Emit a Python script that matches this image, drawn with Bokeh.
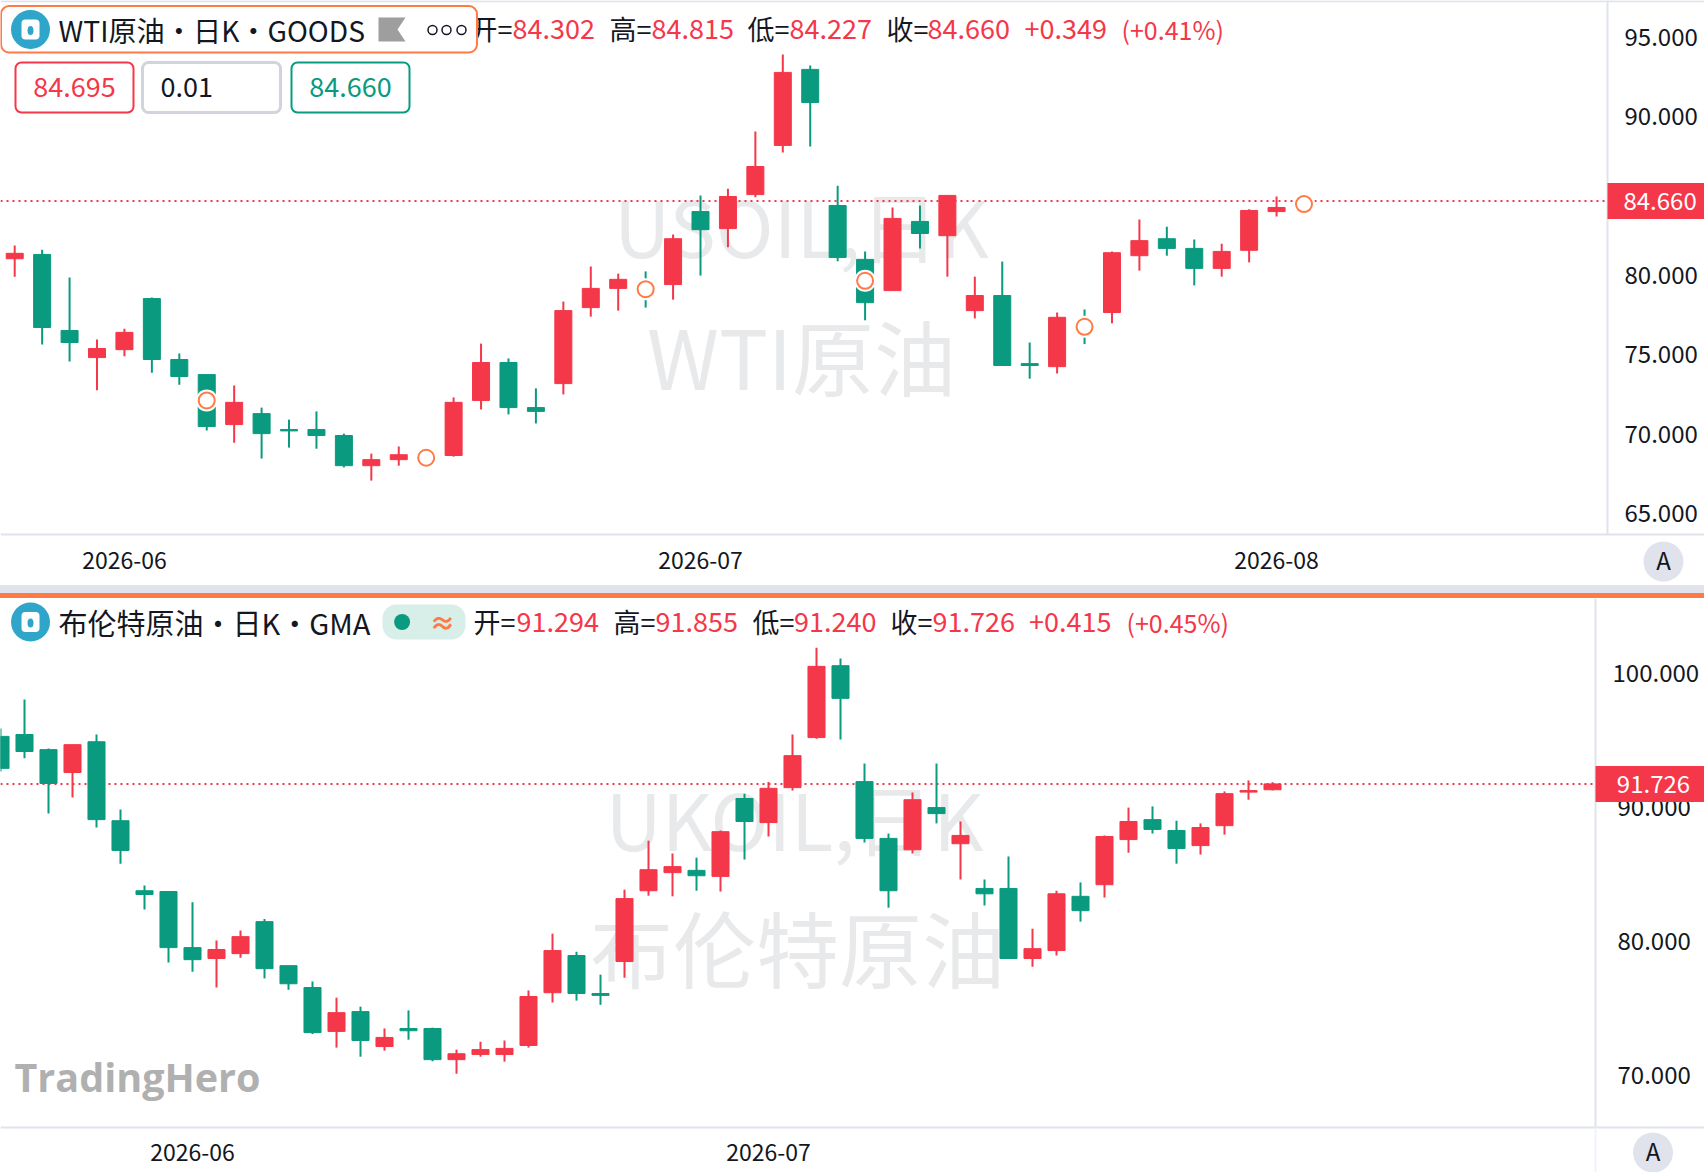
from bokeh.plotting import figure
from bokeh.layouts import column
from bokeh.models import Range1d, FixedTicker, NumeralTickFormatter, LinearAxis, Div
from bokeh.core.properties import value
from bokeh.embed import file_html
from bokeh.resources import INLINE

wti_open  = [81.03,81.30,76.51,74.80,75.30,78.52,74.68,73.73,70.58,71.27,70.27,70.27,69.89,67.99,68.37,68.44,68.63,72.10,74.49,71.65,73.16,77.95,79.16,79.28,79.40,84.00,82.93,85.07,88.17,92.96,84.38,80.99,79.02,83.38,82.48,77.76,78.71,74.42,74.23,76.91,77.64,81.22,82.29,81.68,80.42,81.56,84.00,84.302]
wti_high  = [81.86,81.60,79.85,75.94,76.62,78.59,75.06,73.73,73.04,71.65,70.89,71.41,70.01,68.75,69.20,68.97,72.29,75.68,74.75,72.86,78.33,80.54,80.09,80.23,82.55,85.02,85.44,89.05,93.89,93.20,85.63,81.49,84.26,84.38,85.02,79.90,80.85,75.75,77.64,77.83,81.49,83.50,83.05,82.24,81.98,84.14,84.95,84.815]
wti_low   = [79.90,75.63,74.56,72.74,74.89,73.85,73.09,70.20,69.44,68.44,69.13,69.06,67.88,67.05,67.99,67.97,68.56,71.53,71.22,70.65,72.48,77.38,77.76,77.95,78.45,79.97,81.75,84.90,87.72,88.10,80.87,77.15,79.02,81.68,79.90,77.27,74.30,73.47,73.80,75.65,76.96,80.28,81.22,79.35,79.90,80.80,83.69,84.227]
wti_close = [81.37,76.70,75.75,75.37,76.39,74.68,73.61,70.46,71.98,70.01,70.18,69.89,67.99,68.37,68.68,68.54,71.98,74.49,71.65,71.41,77.76,79.16,79.73,78.92,82.29,82.86,84.95,86.84,92.77,90.87,81.11,78.26,83.57,82.62,85.02,78.71,74.30,74.30,77.34,76.55,81.41,82.17,81.68,80.42,81.49,84.07,84.26,84.660]
wti_marker_index = [7,15,23,31,39,47]
wti_marker_value = [72.10,68.49,79.11,79.64,76.74,84.47]
wti_last = 84.66
wti_ticks = [95,90,85,80,75,70,65]
wti_date_index = [4,25,46]
wti_date_labels = ["2026-06","2026-07","2026-08"]

brent_open  = [95.28,95.42,94.29,92.58,94.88,88.98,83.75,83.69,79.50,78.69,79.05,81.44,78.15,76.52,73.24,74.72,72.11,73.46,73.46,71.13,71.52,71.52,72.19,76.13,78.91,76.07,78.46,83.75,85.10,85.27,84.82,90.64,88.84,91.45,95.19,100.56,91.90,87.66,86.81,89.96,87.26,83.92,83.92,78.69,79.28,83.33,84.20,87.57,89.06,88.25,87.12,88.61,91.12,91.294]
brent_high  = [95.87,98.03,94.38,94.66,95.42,89.82,84.14,83.69,82.88,80.04,80.77,81.64,78.15,76.97,75.76,75.09,73.46,74.81,73.52,71.88,72.47,72.56,76.30,80.54,79.19,77.48,83.83,87.49,86.53,86.22,88.25,91.00,91.87,95.42,101.91,101.10,93.25,88.02,91.09,93.25,88.92,84.59,86.31,80.91,83.75,84.37,87.88,89.96,90.05,88.98,88.78,91.17,91.99,91.855]
brent_low   = [92.66,93.65,89.51,90.72,88.47,85.77,82.34,78.38,77.70,76.52,78.74,77.20,76.35,73.04,72.03,71.35,71.80,72.62,71.01,70.08,71.35,70.98,72.03,75.40,75.54,75.23,77.25,83.38,83.33,83.75,83.69,86.08,87.80,91.23,95.11,95.05,87.35,82.48,86.53,88.78,84.59,82.65,78.69,78.07,78.91,81.44,83.24,86.59,88.02,85.77,86.45,87.94,90.55,91.240]
brent_close = [92.89,94.15,91.76,94.66,89.06,86.76,83.47,79.50,78.60,79.36,80.32,77.93,76.80,73.15,74.64,72.56,72.79,73.29,71.13,71.57,71.88,71.97,75.85,79.28,76.07,75.93,83.16,85.32,85.55,84.87,88.16,88.92,91.40,93.84,100.51,98.12,87.66,83.75,90.55,89.51,87.88,83.52,78.69,79.42,83.52,82.26,87.80,88.92,88.33,86.90,88.47,91.00,91.23,91.726]
brent_last = 91.726
brent_ticks_short = [90,80,70]
brent_ticks_long = [100]
brent_date_index = [8,32]
brent_date_labels = ["2026-06","2026-07"]

RED = "#f43749"
GREEN = "#0a9a7f"
INK = "#131722"
LINE = "#e0e3eb"
FAINT = "#f0f3fa"
WM = "#e8e9eb"
ORANGE = "#ff7a45"
BLUE = "#2fa6c9"
CJK = value("Noto Sans CJK SC")
PX = dict(x_range_name="px", y_range_name="px")
NO_TICK = dict(major_tick_line_color=None, minor_tick_line_color=None, axis_line_color=None,
               major_tick_out=0, major_tick_in=0, minor_tick_out=0, minor_tick_in=0,
               major_label_text_font="Noto Sans CJK SC", major_label_text_color=INK)


def make(width, height, top, xr, yr, tick_groups, date_idx, date_lab, date_standoff):
    p = figure(width=width, height=height, output_backend="svg", toolbar_location=None,
               x_range=Range1d(*xr), y_range=Range1d(*yr), min_border=0, x_axis_type=None, y_axis_type=None,
               outline_line_color=None, background_fill_color="white", frame_align=False)
    p.grid.visible = False
    p.extra_x_ranges["px"] = Range1d(0, width)
    p.extra_y_ranges["px"] = Range1d(top + height, top)
    for ticks, standoff in tick_groups:
        ay = LinearAxis(ticker=FixedTicker(ticks=ticks), formatter=NumeralTickFormatter(format="0.000"),
                        major_label_text_font_size="24px", major_label_standoff=standoff, **NO_TICK)
        p.add_layout(ay, "right")
    ax = LinearAxis(ticker=FixedTicker(ticks=date_idx),
                    major_label_overrides={i: l for i, l in zip(date_idx, date_lab)},
                    major_label_text_font_size="23px", major_label_standoff=date_standoff, **NO_TICK)
    p.add_layout(ax, "below")
    return p


def candles(p, o, h, l, c, w):
    idx = list(range(len(o)))
    col = [RED if a >= b else GREEN for a, b in zip(c, o)]
    p.segment(idx, h, idx, l, color=col, line_width=2)
    p.vbar(idx, w, [min(a, b) for a, b in zip(o, c)], [max(a, b) for a, b in zip(o, c)],
           fill_color=col, line_color=col, line_width=1)


def txt(p, x, y, s, color=INK, size="27px", align="left", font=CJK, style="normal"):
    p.text([x], [y], text=[s], text_color=color, text_font_size=size, text_align=align,
           text_baseline="middle", text_font=font, text_font_style=style, **PX)


def box(p, l, r, t, b, fill, line, lw=2, radius=6):
    p.quad(left=[l], right=[r], top=[t], bottom=[b], fill_color=fill, line_color=line,
           line_width=lw, border_radius=radius, **PX)


def rule(p, x0, y0, x1, y1, color=LINE):
    p.segment([x0], [y0], [x1], [y1], line_color=color, line_width=2, **PX)


def icon(p, cx, cy):
    p.ellipse([cx], [cy], width=[39], height=[39], fill_color=BLUE, line_color=None, **PX)
    box(p, cx - 9, cx + 9, cy - 10, cy + 10, "white", None, 0, 4)
    p.ellipse([cx], [cy + 1], width=[6], height=[9], fill_color=BLUE, line_color=None, **PX)


def ohlc(p, y, parts):
    for x, s, col, size in parts:
        txt(p, x, y, s, col, size)


def price_line(p, x0, x1, price):
    p.segment([x0], [price], [x1], [price], line_color=RED, line_width=2, line_dash="2 4")


def tag(p, left, right, price, half, xtext, s):
    p.quad(left=[left], right=[right], top=[price + half], bottom=[price - half], fill_color=RED, line_color=None,
           x_range_name="px", level="annotation")
    p.text([xtext], [price], text=[s], text_color="white", text_font_size="24px", text_align="center",
           text_baseline="middle", text_font=CJK, x_range_name="px", level="annotation")


def button(p, xc, yc):
    p.ellipse([xc], [yc], width=[40], height=[40], fill_color=LINE, line_color=None, **PX)
    txt(p, xc, yc - 2, "A", INK, "24px", "center")


# ---- top panel
p1 = make(1704, 585, 0, (-0.518, 61.60), (60.44, 97.30), [(wti_ticks, -80)], wti_date_index,
          wti_date_labels, -34)
rule(p1, 0, 0.7, 1704, 0.7)
rule(p1, 0, 534, 1704, 534)
rule(p1, 1607, 0, 1607, 534)
txt(p1, 801, 223, "USOIL,日K", WM, "78px", "center")
txt(p1, 801, 354, "WTI原油", WM, "82px", "center")
price_line(p1, -0.518, 58.07, wti_last)
candles(p1, wti_open, wti_high, wti_low, wti_close, 0.62)
p1.scatter(wti_marker_index, wti_marker_value, size=22, fill_color="white", line_color=None)
p1.scatter(wti_marker_index, wti_marker_value, size=16, fill_color="white", line_color=ORANGE, line_width=2)
ohlc(p1, 28, [(470, "开=", INK, "27px"), (512, "84.302", RED, "27px"), (609, "高=", INK, "27px"), (651, "84.815", RED, "27px"),
              (747, "低=", INK, "27px"), (789, "84.227", RED, "27px"), (886, "收=", INK, "27px"), (927, "84.660", RED, "27px"),
              (1024, "+0.349", RED, "27px"), (1121, "(+0.41%)", RED, "25px")])
box(p1, 0.5, 476.5, 5.6, 52, "white", ORANGE, 2, 8)
icon(p1, 30, 29)
txt(p1, 58, 29, "WTI原油·日K·GOODS", INK, "28.2px")
p1.patch([378, 405, 397, 405, 378], [17, 17, 29, 41, 41], fill_color="#9e9e9e", line_color=None, **PX)
p1.scatter([432, 446, 461], [29.5, 29.5, 29.5], size=9, fill_color="white", line_color=INK, line_width=1.5, **PX)
box(p1, 15, 133, 62, 112, "white", RED, 2)
box(p1, 142, 280, 62, 112, "white", "#d1d4dc", 3)
box(p1, 291, 409, 62, 112, "white", GREEN, 2)
txt(p1, 74, 86, "84.695", RED, "27px", "center")
txt(p1, 160, 86, "0.01", INK, "27px")
txt(p1, 350, 86, "84.660", GREEN, "27px", "center")
tag(p1, 1607, 1704, wti_last, 1.134, 1659.6, "84.660")
button(p1, 1663, 561)

band1 = Div(text="", width=1704, height=8, margin=0, styles={"background-color": LINE})
band2 = Div(text="", width=1704, height=5, margin=0, styles={"background-color": ORANGE})

# ---- bottom panel
p2 = make(1704, 574, 598, (0.0, 71.0), (62.70, 105.58), [(brent_ticks_short, -87), (brent_ticks_long, -92)],
          brent_date_index, brent_date_labels, -29)
rule(p2, 0, 1127, 1704, 1127)
rule(p2, 1595, 598, 1595, 1127)
rule(p2, 1595, 1127, 1595, 1172, FAINT)
txt(p2, 794, 816, "UKOIL,日K", WM, "78px", "center")
txt(p2, 797, 945, "布伦特原油", WM, "83px", "center")
price_line(p2, 0.0, 66.46, brent_last)
candles(p2, brent_open, brent_high, brent_low, brent_close, 0.71)
icon(p2, 30, 621.5)
txt(p2, 58, 621, "布伦特原油·日K·GMA", INK, "29px")
box(p2, 382, 465, 604, 639, "#d8efe9", None, 0, 14)
p2.ellipse([401.6], [621.5], width=[16], height=[16], fill_color=GREEN, line_color=None, **PX)
txt(p2, 442, 621, "≈", ORANGE, "26px", "center", style="bold")
ohlc(p2, 621, [(473, "开=", INK, "27px"), (516, "91.294", RED, "27px"), (613, "高=", INK, "27px"), (655, "91.855", RED, "27px"),
               (752, "低=", INK, "27px"), (793.5, "91.240", RED, "27px"), (890, "收=", INK, "27px"), (932, "91.726", RED, "27px"),
               (1028.6, "+0.415", RED, "27px"), (1126, "(+0.45%)", RED, "25px")])
txt(p2, 14, 1076, "TradingHero", "#b0b0b0", "39.5px", font=value("Open Sans"), style="bold")
tag(p2, 1595, 1704, brent_last, 1.345, 1653, "91.726")
button(p2, 1652.5, 1152)

page = column(p1, band1, band2, p2, spacing=0)
open("out.html", "w").write(file_html(page, INLINE))
